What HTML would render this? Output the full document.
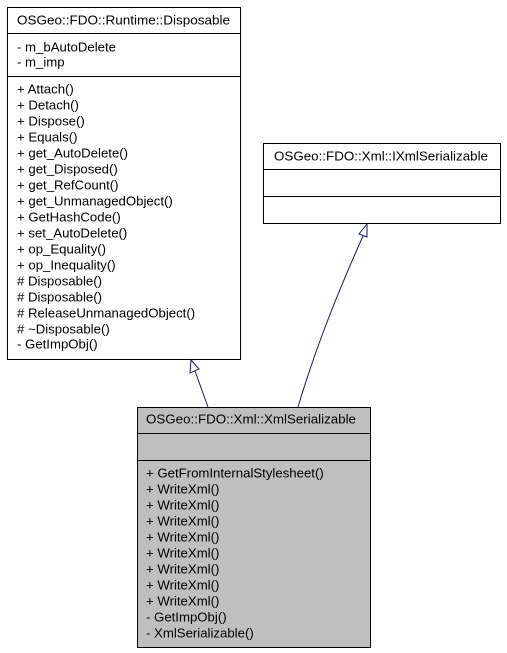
<!DOCTYPE html>
<html><head><meta charset="utf-8"><style>
html,body{margin:0;padding:0;background:#fff;width:507px;height:653px;overflow:hidden}
svg{display:block}
text{font-family:"Liberation Sans",Arial,sans-serif;font-size:13.2px;fill:#000;dominant-baseline:central}
</style></head><body>
<svg width="507" height="653" viewBox="0 0 507 653" xmlns="http://www.w3.org/2000/svg">
<g stroke="#000" stroke-width="1" fill="#fff">
<rect x="7.5" y="7.5" width="233" height="352"/>
<line x1="7.5" y1="33.5" x2="240.5" y2="33.5"/>
<line x1="7.5" y1="76.5" x2="240.5" y2="76.5"/>
<rect x="263.5" y="143.5" width="237" height="80"/>
<line x1="263.5" y1="169.5" x2="500.5" y2="169.5"/>
<line x1="263.5" y1="196.5" x2="500.5" y2="196.5"/>
<rect x="137.5" y="407.5" width="233" height="240" fill="#bfbfbf"/>
<line x1="137.5" y1="433.5" x2="370.5" y2="433.5"/>
<line x1="137.5" y1="460.5" x2="370.5" y2="460.5"/>
</g>
<g stroke="#191970" stroke-width="1" fill="none">
<path d="M208,407 L195,371"/>
<path d="M298,407 C312,360 330,310 363,236"/>
</g>
<g stroke="#191970" stroke-width="1" fill="#fff">
<polygon points="191,360 190,373 199,369"/>
<polygon points="367,224 359,234 367,237"/>
</g>
<text x="17" y="20" textLength="213" lengthAdjust="spacingAndGlyphs">OSGeo::FDO::Runtime::Disposable</text>
<text x="17" y="47">- m_bAutoDelete</text>
<text x="17" y="62">- m_imp</text>
<text x="17" y="89">+ Attach()</text>
<text x="17" y="105">+ Detach()</text>
<text x="17" y="121">+ Dispose()</text>
<text x="17" y="137">+ Equals()</text>
<text x="17" y="153">+ get_AutoDelete()</text>
<text x="17" y="169">+ get_Disposed()</text>
<text x="17" y="185">+ get_RefCount()</text>
<text x="17" y="201">+ get_UnmanagedObject()</text>
<text x="17" y="217">+ GetHashCode()</text>
<text x="17" y="233">+ set_AutoDelete()</text>
<text x="17" y="249">+ op_Equality()</text>
<text x="17" y="265">+ op_Inequality()</text>
<text x="17" y="281"># Disposable()</text>
<text x="17" y="297"># Disposable()</text>
<text x="17" y="313"># ReleaseUnmanagedObject()</text>
<text x="17" y="329"># ~Disposable()</text>
<text x="17" y="344">- GetImpObj()</text>
<text x="274" y="156" textLength="214" lengthAdjust="spacingAndGlyphs">OSGeo::FDO::Xml::IXmlSerializable</text>
<text x="146" y="419" textLength="210" lengthAdjust="spacingAndGlyphs">OSGeo::FDO::Xml::XmlSerializable</text>
<text x="146" y="473">+ GetFromInternalStylesheet()</text>
<text x="146" y="489">+ WriteXml()</text>
<text x="146" y="505">+ WriteXml()</text>
<text x="146" y="521">+ WriteXml()</text>
<text x="146" y="537">+ WriteXml()</text>
<text x="146" y="553">+ WriteXml()</text>
<text x="146" y="569">+ WriteXml()</text>
<text x="146" y="585">+ WriteXml()</text>
<text x="146" y="601">+ WriteXml()</text>
<text x="146" y="617">- GetImpObj()</text>
<text x="146" y="633">- XmlSerializable()</text>
</svg>
</body></html>
